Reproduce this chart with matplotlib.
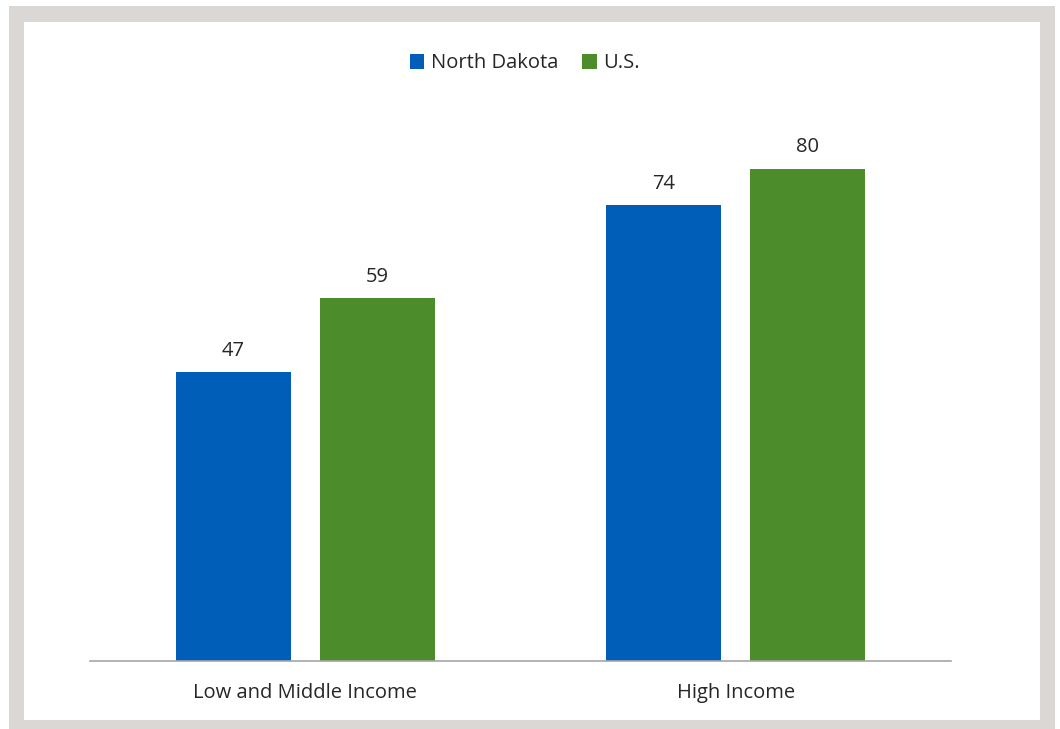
import matplotlib
matplotlib.use("Agg")
import matplotlib.pyplot as plt
from matplotlib.patches import Rectangle
import numpy as np

categories = ["Low and Middle Income", "High Income"]
series_names = ["North Dakota", "U.S."]
north_dakota = [47, 74]
us = [59, 80]

colors = ["#005EB8", "#4C8C2B"]
text_color = "#262626"

plt.rcParams['font.family'] = ['Open Sans', 'DejaVu Sans']

W, H = 1060, 729
fig = plt.figure(figsize=(W / 100, H / 100), dpi=100)
fig.patch.set_facecolor("white")

# frame
fig.patches.append(Rectangle((9 / W, 0), (1055 - 9) / W, (729 - 6) / H,
                             transform=fig.transFigure, facecolor="#DAD7D4",
                             edgecolor="none", zorder=-2))
fig.patches.append(Rectangle((24 / W, (729 - 720) / H), (1040 - 24) / W, (720 - 22) / H,
                             transform=fig.transFigure, facecolor="white",
                             edgecolor="none", zorder=-1))

ax = fig.add_axes([90 / W, 1 - 661 / H, (951 - 90) / W, (661 - 107) / H])
ax.set_facecolor("none")

x = np.arange(len(categories))
width = 0.267
offset = 0.167
b1 = ax.bar(x - offset, north_dakota, width, color=colors[0], label=series_names[0])
b2 = ax.bar(x + offset, us, width, color=colors[1], label=series_names[1])

for bars in (b1, b2):
    for rect in bars:
        h = rect.get_height()
        ax.annotate(f"{h:g}", (rect.get_x() + rect.get_width() / 2, h),
                    xytext=(0, 8), textcoords="offset points",
                    ha="center", va="bottom", fontsize=14.5, color=text_color)

ax.set_xlim(-0.5, 1.5)
ax.set_ylim(0, 90)
ax.set_yticks([])
ax.set_xticks(x)
ax.set_xticklabels(categories, fontsize=14.5, color=text_color)
ax.tick_params(axis="x", length=0, pad=16)
for s in ["top", "right", "left"]:
    ax.spines[s].set_visible(False)
ax.spines["bottom"].set_color("#A6A6A6")
ax.spines["bottom"].set_linewidth(1.2)

leg = fig.legend(handles=[b1, b2], labels=series_names, loc="center",
                 bbox_to_anchor=(525 / W, 1 - 63.5 / H), ncol=2, frameon=False,
                 fontsize=14.5, handlelength=0.7, handleheight=0.7,
                 handletextpad=0.35, columnspacing=1.2)
for t in leg.get_texts():
    t.set_color(text_color)

fig.savefig("out.png", dpi=100)
